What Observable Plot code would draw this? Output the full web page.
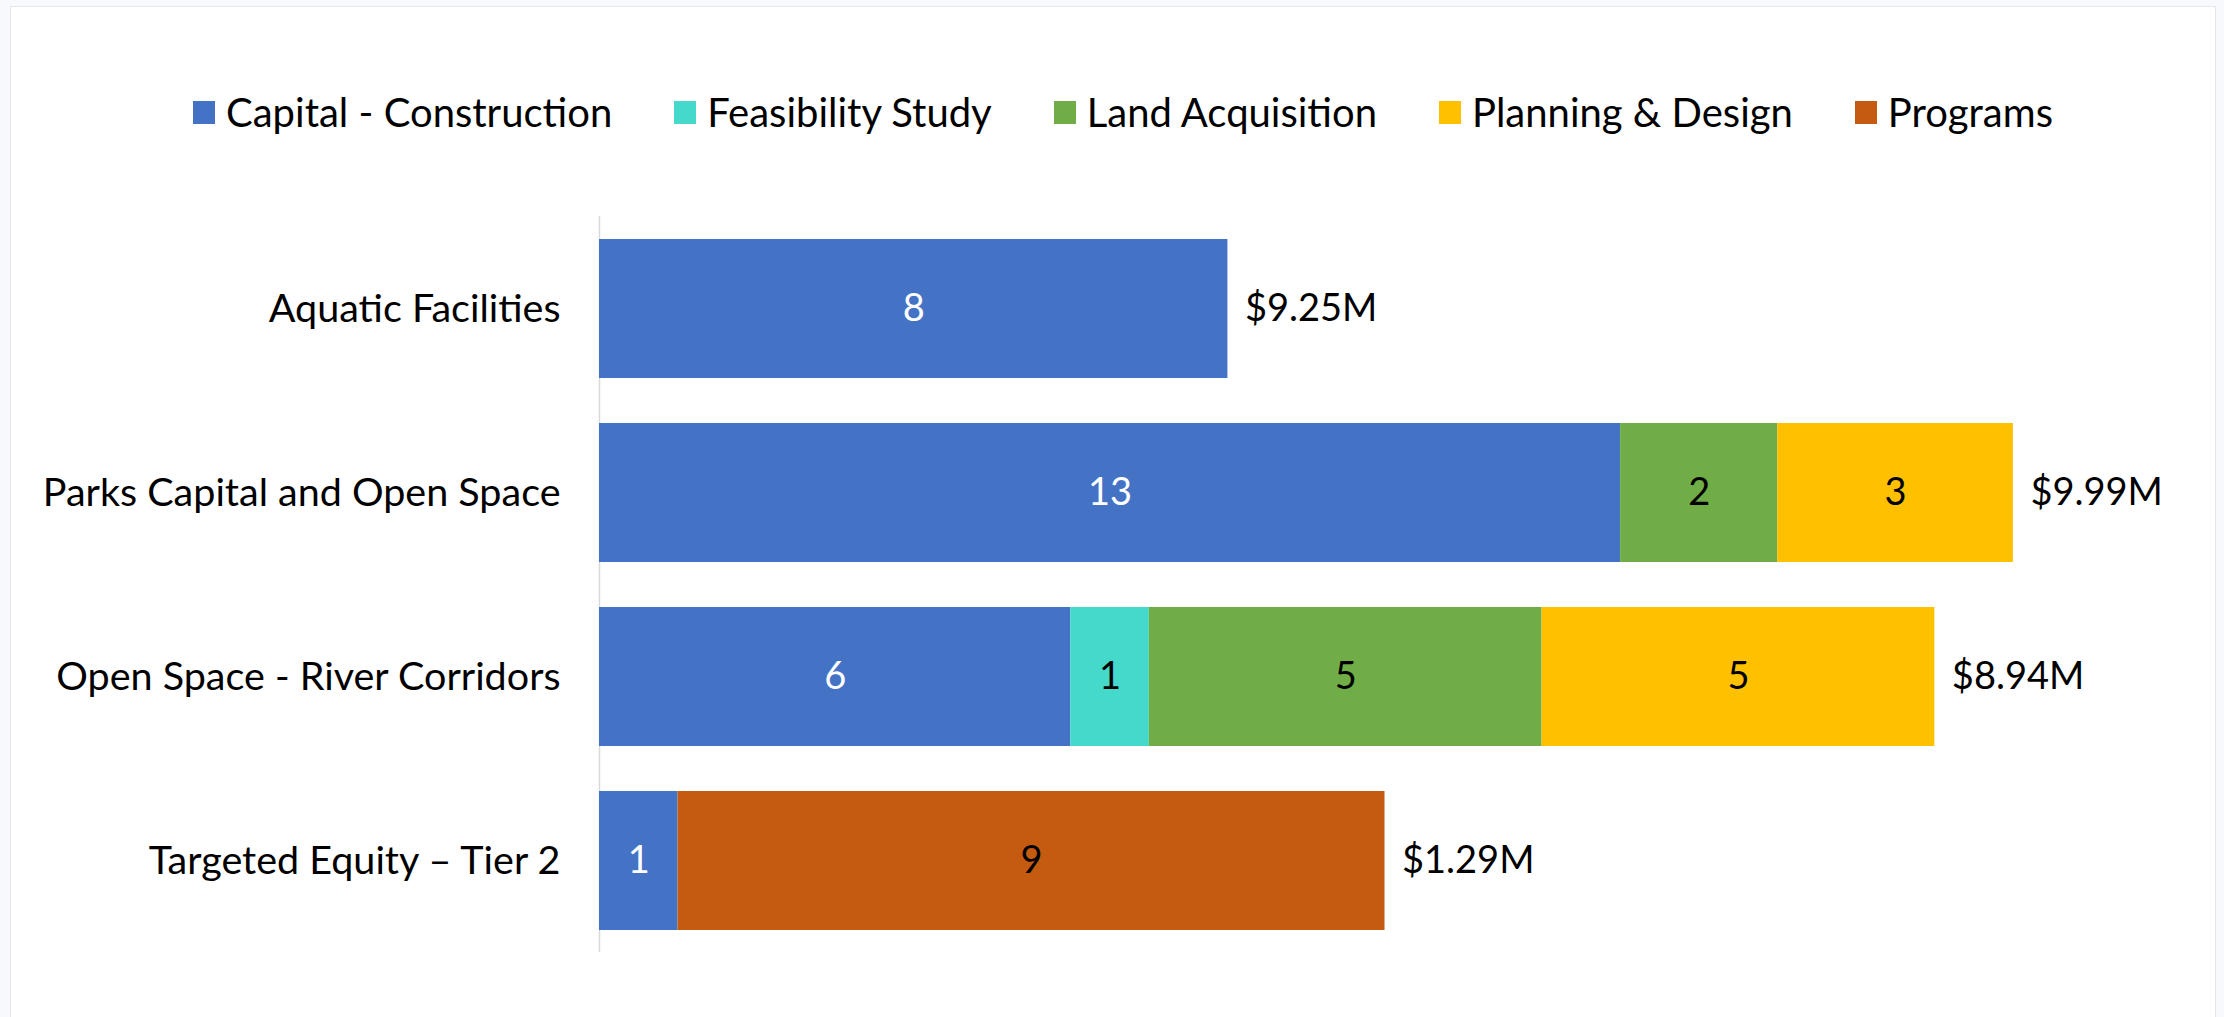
<!DOCTYPE html>
<html>
<head>
<meta charset="utf-8">
<script src="https://cdn.jsdelivr.net/npm/d3@7"></script>
<script src="https://cdn.jsdelivr.net/npm/@observablehq/plot@0.6"></script>
<style>
  html, body { margin: 0; padding: 0; width: 2224px; height: 1017px; overflow: hidden; background: #f8f9fd; font-family: Lato, "Open Sans", sans-serif; }
  #panel { position: absolute; left: 10px; top: 6px; width: 2204px; height: 1020px; background: #ffffff; border: 1px solid #e6e7ec; }
  #legend { position: absolute; left: 11px; top: 88px; width: 2224px; height: 48px; display: flex; justify-content: center; align-items: center; gap: 62px; font-size: 40px; color: #000; }
  .item { display: flex; align-items: center; gap: 11px; white-space: nowrap; }
  .sw { width: 22px; height: 23px; display: inline-block; }
  #chart { position: absolute; left: 0; top: 160px; }
</style>
</head>
<body>
<div id="panel"></div>
<div id="legend"></div>
<div id="chart"></div>
<script>
const categories = ["Aquatic Facilities", "Parks Capital and Open Space", "Open Space - River Corridors", "Targeted Equity – Tier 2"];
const series = ["Capital - Construction", "Feasibility Study", "Land Acquisition", "Planning & Design", "Programs"];
const colors = ["#4472C4", "#45D9CC", "#70AD47", "#FFC000", "#C55A11"];
const capitalConstruction = [8, 13, 6, 1];
const feasibilityStudy = [0, 0, 1, 0];
const landAcquisition = [0, 2, 5, 0];
const planningDesign = [0, 3, 5, 0];
const programs = [0, 0, 0, 9];
const totalLabels = ["$9.25M", "$9.99M", "$8.94M", "$1.29M"];

const seriesValues = [capitalConstruction, feasibilityStudy, landAcquisition, planningDesign, programs];
const rows = [];
series.forEach((s, si) => {
  categories.forEach((c, ci) => {
    const v = seriesValues[si][ci];
    if (v > 0) rows.push({category: c, series: s, value: v});
  });
});
const totals = categories.map((c, ci) => ({
  category: c,
  total: d3.sum(seriesValues, arr => arr[ci]),
  label: totalLabels[ci]
}));

// legend
const legend = document.getElementById("legend");
series.forEach((s, i) => {
  const it = document.createElement("div");
  it.className = "item";
  const sw = document.createElement("span");
  sw.className = "sw";
  sw.style.background = colors[i];
  const tx = document.createElement("span");
  tx.textContent = s;
  it.appendChild(sw);
  it.appendChild(tx);
  legend.appendChild(it);
});

const chart = Plot.plot({
  width: 2224,
  height: 832,
  marginTop: 56,
  marginBottom: 40,
  marginLeft: 599,
  marginRight: 54,
  style: {fontSize: "38px", fontFamily: "Lato, 'Open Sans', sans-serif", color: "#000", background: "transparent"},
  x: {domain: [0, 20], axis: null},
  y: {domain: categories, paddingInner: 0.245, paddingOuter: 0.1225, label: null},
  color: {domain: series, range: colors},
  marks: [
    Plot.ruleX([0], {stroke: "#d9d9d9", strokeWidth: 1.5}),
    Plot.barX(rows, Plot.stackX({x: "value", y: "category", fill: "series", z: "series", order: null})),
    Plot.text(rows, Plot.stackX({
      x: "value", y: "category", z: "series", order: null,
      text: d => String(d.value),
      fontSize: 38,
      fill: d => d.series === "Capital - Construction" ? "#ffffff" : "#000000"
    })),
    Plot.text(totals, {x: "total", y: "category", text: "label", textAnchor: "start", dx: 17, fontSize: 38, fill: "#000"}),
    Plot.axisY({tickSize: 0, tickPadding: 39, label: null, fontSize: 39.5, fill: "#000"})
  ]
});
document.getElementById("chart").appendChild(chart);
</script>
</body>
</html>
